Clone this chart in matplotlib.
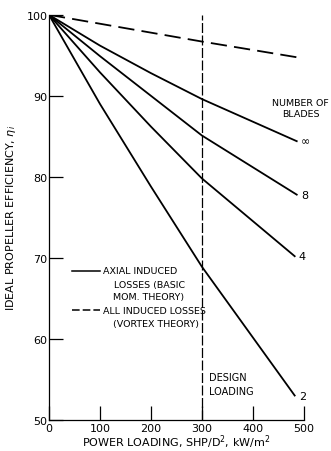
import matplotlib
matplotlib.use("Agg")
import matplotlib.pyplot as plt

# power loading, kW/m^2, and efficiency
load_vortex = [0, 300, 492]
eff_vortex = [100, 96.7, 94.7]

load_inf = [0, 100, 200, 300, 486]
eff_inf = [100, 96.2, 92.8, 89.6, 84.4]
load_8 = [0, 100, 200, 300, 486]
eff_8 = [100, 94.9, 90.0, 85.1, 77.8]
load_4 = [0, 100, 200, 300, 482]
eff_4 = [100, 92.9, 86.2, 79.8, 70.2]
load_2 = [0, 100, 200, 300, 482]
eff_2 = [100, 89.0, 78.8, 68.9, 53.0]

blade_labels = ["\u221e", "8", "4", "2"]
design_load = 300

plt.rcParams['font.family'] = ['Liberation Sans Narrow', 'DejaVu Sans']

fig = plt.figure(figsize=(3.31, 4.52), dpi=100)
ax = fig.add_axes([0.148, 0.069, 0.770, 0.896])

ax.plot(load_vortex, eff_vortex, color='black', lw=1.3, dashes=(9, 4))
curves = [(load_inf, eff_inf), (load_8, eff_8), (load_4, eff_4), (load_2, eff_2)]
for (xs, ys), lab in zip(curves, blade_labels):
    ax.plot(xs, ys, color='black', lw=1.3)
    ax.text(xs[-1] + 8, ys[-1], lab, fontsize=8, va='center', ha='left')

ax.axvline(design_load, color='black', lw=0.9, dashes=(8, 2))
ax.text(314, 54.4, "DESIGN\nLOADING", fontsize=7, va='center', ha='left', linespacing=1.5)
ax.text(438, 88.5, "NUMBER OF\nBLADES", fontsize=6.8, va='center', ha='left',
        linespacing=1.3, multialignment='center')

# legend drawn by hand, like the original
fs = 6.8
ax.plot([45, 100], [68.4, 68.4], color='black', lw=1.1)
ax.text(106, 68.4, "AXIAL INDUCED", fontsize=fs, va='center')
ax.text(127, 66.7, "LOSSES (BASIC", fontsize=fs, va='center')
ax.text(125, 65.2, "MOM. THEORY)", fontsize=fs, va='center')
ax.plot([45, 100], [63.5, 63.5], color='black', lw=1.1, dashes=(5, 2))
ax.text(106, 63.5, "ALL INDUCED LOSSES", fontsize=fs, va='center')
ax.text(125, 61.9, "(VORTEX THEORY)", fontsize=fs, va='center')

ax.set_xlim(0, 500)
ax.set_ylim(50, 100)
ax.set_xticks([0, 100, 200, 300, 400, 500])
ax.set_yticks([50, 60, 70, 80, 90, 100])
ax.tick_params(direction='in', length=10, width=0.9, labelsize=8, pad=2)
ax.tick_params(axis='y', pad=1)
for s in ['top', 'right']:
    ax.spines[s].set_visible(False)
for s in ['left', 'bottom']:
    ax.spines[s].set_linewidth(0.9)

ax.set_xlabel("POWER LOADING, SHP/D$^2$, kW/m$^2$", fontsize=8, labelpad=0)
ax.set_ylabel("IDEAL PROPELLER EFFICIENCY, $\\eta_i$", fontsize=8, labelpad=6)

fig.savefig("out.png", dpi=100)
